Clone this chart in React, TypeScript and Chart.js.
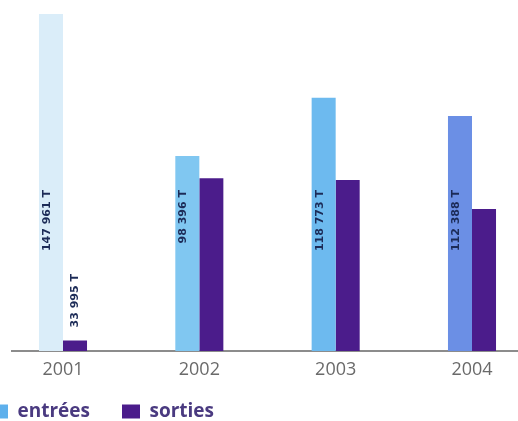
import React, { useEffect, useRef } from 'react';
import { Chart, registerables } from 'chart.js';

Chart.register(...registerables);

// ---- data ----
const years = ['2001', '2002', '2003', '2004'];
const entrees = [147961, 98396, 118773, 112388];
const sorties = [33995, 90600, 90000, 79900];
const entreesLabels = ['147 961 T', '98 396 T', '118 773 T', '112 388 T'];
const sortiesLabels = ['33 995 T', '', '', ''];
const seriesNames = ['entrées', 'sorties'];

// ---- styles ----
const entreesColors = ['#daedf9', '#80c7f1', '#6dbaef', '#6b8fe5'];
const entreesLegendColor = '#5eb0ec';
const sortiesColor = '#4b1c8b';

const SHIFT = 42; // canvas starts left of the page so the first legend box is cut like the reference
const CW = 518 + SHIFT;
const CH = 431;

const valueLabels = {
  id: 'valueLabels',
  afterDatasetsDraw(chart: any) {
    const { ctx, chartArea } = chart;
    ctx.save();
    ctx.font = 'bold 11px "DejaVu Sans"';
    ctx.fillStyle = '#1c2b57';
    ctx.textBaseline = 'middle';
    const m0 = chart.getDatasetMeta(0);
    m0.data.forEach((bar: any, i: number) => {
      const t = entreesLabels[i];
      if (!t) return;
      ctx.save();
      ctx.translate(bar.x - 4, chartArea.bottom - 161);
      ctx.rotate(-Math.PI / 2);
      ctx.textAlign = 'right';
      ctx.fillText(t, 0, 0);
      ctx.restore();
    });
    const m1 = chart.getDatasetMeta(1);
    m1.data.forEach((bar: any, i: number) => {
      const t = sortiesLabels[i];
      if (!t) return;
      ctx.save();
      ctx.translate(bar.x, bar.y - 13);
      ctx.rotate(-Math.PI / 2);
      ctx.textAlign = 'left';
      ctx.fillText(t, 0, 0);
      ctx.restore();
    });
    ctx.restore();
  },
};

export default function App() {
  const ref = useRef<HTMLCanvasElement | null>(null);

  useEffect(() => {
    if (!ref.current) return;
    const chart = new Chart(ref.current, {
      type: 'bar',
      data: {
        datasets: [
          {
            label: seriesNames[0],
            data: years.map((_, i) => ({ x: i, y: entrees[i] })),
            backgroundColor: entreesColors,
            borderWidth: 0,
            categoryPercentage: 0.3524,
            barPercentage: 1,
          },
          {
            label: seriesNames[1],
            data: years.map((_, i) => ({ x: i, y: sorties[i] })),
            backgroundColor: sortiesColor,
            borderWidth: 0,
            categoryPercentage: 0.3524,
            barPercentage: 1,
          },
        ],
      } as any,
      options: {
        animation: false,
        responsive: false,
        layout: { padding: 0 },
        scales: {
          x: {
            type: 'linear',
            offset: false,
            min: -0.3741,
            max: 3.3374,
            grid: { display: false, drawTicks: false },
            border: { display: true, color: '#8c8c8c', width: 2 },
            ticks: {
              stepSize: 1,
              includeBounds: false,
              autoSkip: false,
              maxRotation: 0,
              mirror: true,
              padding: -29.8,
              color: '#6a6a6a',
              font: { family: 'Open Sans', size: 18 },
              callback: (v: any) => (Number.isInteger(v) ? years[v] ?? '' : ''),
            },
            afterFit: (s: any) => {
              s.height = 19;
            },
          },
          y: {
            min: 30333,
            max: 152850,
            grid: { display: false },
            border: { display: false },
            ticks: { display: false },
            afterFit: (s: any) => {
              s.width = 12 + SHIFT;
            },
          },
        },
        plugins: {
          tooltip: { enabled: false },
          legend: {
            position: 'bottom',
            align: 'start',
            labels: {
              boxWidth: 18,
              boxHeight: 14,
              padding: 32,
              color: '#4a3a80',
              font: { family: 'Open Sans', size: 19, weight: 'bold' },
              generateLabels: () =>
                seriesNames.map((name, i) => ({
                  text: name,
                  fillStyle: i === 0 ? entreesLegendColor : sortiesColor,
                  strokeStyle: i === 0 ? entreesLegendColor : sortiesColor,
                  lineWidth: 0,
                  hidden: false,
                  datasetIndex: i,
                  fontColor: '#4a3a80',
                })),
            },
          },
        },
      } as any,
      plugins: [valueLabels],
    });
    return () => chart.destroy();
  }, []);

  return (
    <div style={{ position: 'fixed', left: -SHIFT, top: 0, width: CW, height: CH, background: '#fff' }}>
      <canvas ref={ref} width={CW} height={CH} style={{ display: 'block' }} />
    </div>
  );
}
